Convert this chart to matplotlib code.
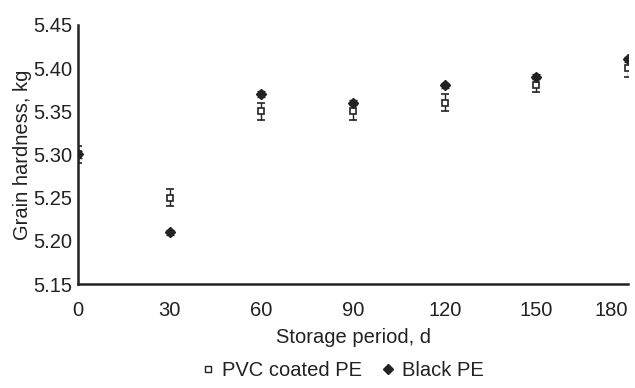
import matplotlib.pyplot as plt
from matplotlib.lines import Line2D

plt.rcParams['font.family'] = ['Liberation Sans', 'DejaVu Sans']

# datos
dias = [0, 30, 60, 90, 120, 150, 180]
pvc = [5.30, 5.25, 5.35, 5.35, 5.36, 5.38, 5.40]
pvc_err = [0.010, 0.010, 0.010, 0.010, 0.010, 0.008, 0.010]
negro = [5.30, 5.21, 5.37, 5.36, 5.38, 5.39, 5.41]
negro_err = [0.004, 0.003, 0.003, 0.003, 0.003, 0.003, 0.003]
xticks = [0, 30, 60, 90, 120, 150, 180]
yticks = [5.15, 5.20, 5.25, 5.30, 5.35, 5.40, 5.45]

fig = plt.figure(figsize=(6.35, 3.88), dpi=100)
ax = fig.add_axes([0.123, 0.268, 0.866, 0.668])

ax.errorbar(dias, pvc, yerr=pvc_err, fmt='s', mfc='white', mec='#222222',
            ecolor='#222222', ms=5, mew=1.2, capsize=3, elinewidth=1,
            zorder=3)
ax.errorbar(dias, negro, yerr=negro_err, fmt='D', color='#222222',
            ms=5, capsize=3, elinewidth=1, zorder=4)

ax.set_xlim(0, 180)
ax.set_ylim(5.15, 5.45)
ax.set_xticks(xticks)
ax.set_yticks(yticks)
ax.set_yticklabels([f'{v:.2f}' for v in yticks])
ax.tick_params(length=0, labelsize=14.5, colors='#222222', pad=4)
ax.tick_params(axis='x', pad=12)
for lbl in ax.get_xticklabels()[-1:]:
    lbl.set_horizontalalignment('right')

for s in ['top', 'right']:
    ax.spines[s].set_visible(False)
for s in ['left', 'bottom']:
    ax.spines[s].set_linewidth(1.8)
    ax.spines[s].set_color('#222222')

ax.set_xlabel('Storage period, d', fontsize=14.5, color='#222222', labelpad=6)
ax.set_ylabel('Grain hardness, kg', fontsize=14.5, color='#222222', labelpad=1)

# leyenda solo con marcadores
h1 = Line2D([], [], ls='none', marker='s', mfc='white', mec='#222222', ms=5, mew=1)
h2 = Line2D([], [], ls='none', marker='D', color='#222222', ms=5)
ax.legend([h1, h2], ['PVC coated PE', 'Black PE'], loc='upper center',
          bbox_to_anchor=(0.48, -0.265), ncol=2, frameon=False, fontsize=14.5,
          handletextpad=0.3, columnspacing=0.9, handlelength=0.8,
          borderaxespad=0, labelcolor='#222222')

fig.savefig('out.png', dpi=100)
